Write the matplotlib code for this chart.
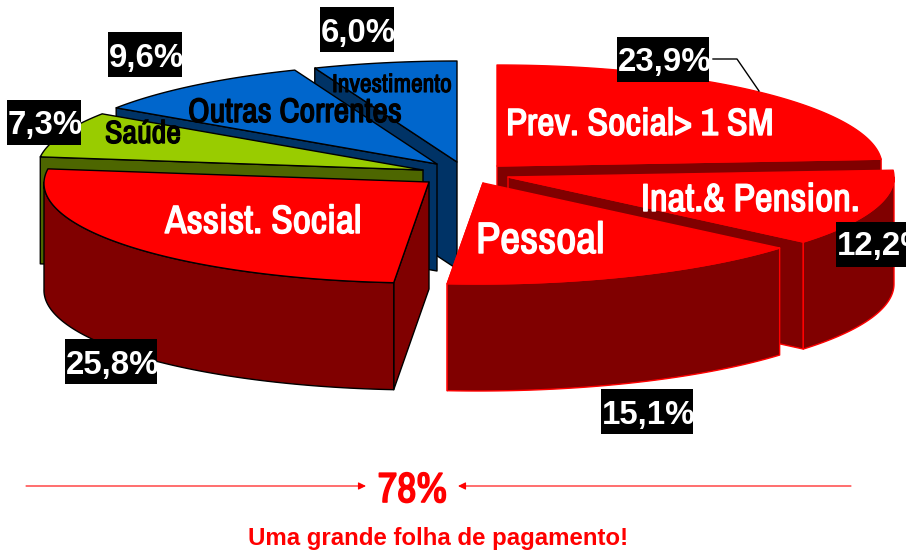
import numpy as np
import matplotlib
matplotlib.use("Agg")
import logging
logging.getLogger("matplotlib.font_manager").setLevel(logging.ERROR)
import matplotlib.pyplot as plt
import matplotlib.patheffects as pe
from matplotlib.patches import Polygon, Rectangle

# ---- data ----
categories = ["Prev. Social> 1 SM", "Inat.& Pension.", "Pessoal", "Assist. Social",
              "Saúde", "Outras Correntes", "Investimento"]
values = [23.9, 12.2, 15.1, 25.8, 7.3, 9.6, 6.0]
total_label = "78%"
caption = "Uma grande folha de pagamento!"

# ---- layout (pixels) ----
W, H = 906, 555
RY, DEPTH = 101, 107
RX = [385, 386, 392, 385, 386, 386, 386]
apex = [(497, 166), (508, 177), (483, 183), (429, 182), (423, 170), (437, 164), (457, 162)]
shear = [0, 0, -0.05, -0.05, 0, 0, 0]
top_col = ["#FF0000", "#FF0000", "#FF0000", "#FF0000", "#99CC00", "#0066CC", "#0066CC"]
wall_col = ["#800000", "#800000", "#800000", "#800000", "#4D6600", "#003366", "#003366"]
edge_col = ["#FF0000", "#FF0000", "#FF0000", "#000000", "#000000", "#000000", "#000000"]
draw_order = [6, 5, 4, 3, 0, 1, 2]
label_style = [  # x, baseline, px size, colour
    (506, 135, 38, "white"), (641, 211, 39, "white"), (476, 253, 44, "white"),
    (165, 233, 39.5, "white"), (105, 143, 32, "black"), (188, 122, 34, "black"),
    (332, 92, 25.5, "black"),
]
pct_box = [(617, 37, 92), (836, 222, 92), (601, 389, 92), (65, 339, 92),
           (7, 100, 74), (108, 32, 74), (320, 7, 74)]
pct_base = [71, 255, 424, 374, 134, 67, 42]

NARROW = ["Liberation Sans Narrow", "Archivo Narrow", "Roboto Condensed", "Liberation Sans", "DejaVu Sans"]
SANS = ["Liberation Sans", "DejaVu Sans"]
px = lambda p: p * 0.72

fig = plt.figure(figsize=(W / 100, H / 100), dpi=100, facecolor="white")
ax = fig.add_axes([0, 0, 1, 1])
ax.set_xlim(0, W)
ax.set_ylim(H, 0)
ax.axis("off")

fracs = np.array(values) / sum(values)
ends = np.cumsum(fracs) * 2 * np.pi
starts = ends - fracs * 2 * np.pi


def pt(i, t, dz=0.0):
    cx, cy = apex[i]
    dy = -RY * np.cos(t)
    return np.column_stack([cx + RX[i] * np.sin(t) + shear[i] * dy, cy + dy + dz])


def poly(xy, face, edge, z, lw=1.0):
    ax.add_patch(Polygon(xy, closed=True, facecolor=face, edgecolor=edge, linewidth=lw,
                         joinstyle="round", zorder=z))


def embolden(txt, col, w):
    txt.set_path_effects([pe.withStroke(linewidth=w, foreground=col)])


z = 1
for i in draw_order:
    a, b = starts[i], ends[i]
    c = np.array([apex[i]], dtype=float)
    # the cut face turned to the viewer is the one whose rim lies lower
    pa, pb = pt(i, np.array([a]))[0], pt(i, np.array([b]))[0]
    p = pa if pa[1] > pb[1] else pb
    poly([c[0], p, p + [0, DEPTH], c[0] + [0, DEPTH]], wall_col[i], edge_col[i], z)
    z += 1
    # outer face (front half only)
    lo, hi = max(a, np.pi / 2), min(b, 1.5 * np.pi)
    if hi > lo:
        ts = np.linspace(lo, hi, 80)
        poly(np.vstack([pt(i, ts), pt(i, ts[::-1], DEPTH)]), wall_col[i], edge_col[i], z)
        z += 1
    # top face
    ts = np.linspace(a, b, 120)
    poly(np.vstack([c, pt(i, ts)]), top_col[i], edge_col[i], z)
    z += 1

# leader line for the first label
ax.plot([713, 737, 759], [59, 59, 91], color="black", lw=1, zorder=z)
z += 1

# category labels
for name, (x, y, s, col) in zip(categories, label_style):
    t = ax.text(x, y, name, color=col, fontsize=px(s), fontweight="bold", family=NARROW,
                ha="left", va="baseline", zorder=z + 5)
    embolden(t, col, 1.0 if s > 30 else 0.8)

# percentage labels on black boxes, text cut by the box
for v, (x, y, w), base in zip(values, pct_box, pct_base):
    r = Rectangle((x, y), w, 45, facecolor="black", edgecolor="none", zorder=z + 6)
    ax.add_patch(r)
    t = ax.text(x + 1, base, f"{v:.1f}%".replace(".", ","), color="white", fontsize=px(33),
                fontweight="bold", family=SANS, ha="left", va="baseline", zorder=z + 7)
    t.set_clip_path(r)
    t.set_clip_on(True)

# bottom annotation
t = ax.text(378, 502, total_label, color="#FF0000", fontsize=px(42), fontweight="bold",
            family=NARROW, ha="left", va="baseline", zorder=z)
embolden(t, "#FF0000", 1.2)
ax.text(248, 545, caption, color="#FF0000", fontsize=px(24), fontweight="bold",
        family=SANS, ha="left", va="baseline", zorder=z)
for x0, x1 in ((26, 366), (851, 458)):
    ax.annotate("", xy=(x1, 486), xytext=(x0, 486),
                arrowprops=dict(arrowstyle="-|>,head_length=0.45,head_width=0.22", color="#FF0000",
                                lw=0.8, shrinkA=0, shrinkB=0), zorder=z)

fig.savefig("out.png", dpi=100)
